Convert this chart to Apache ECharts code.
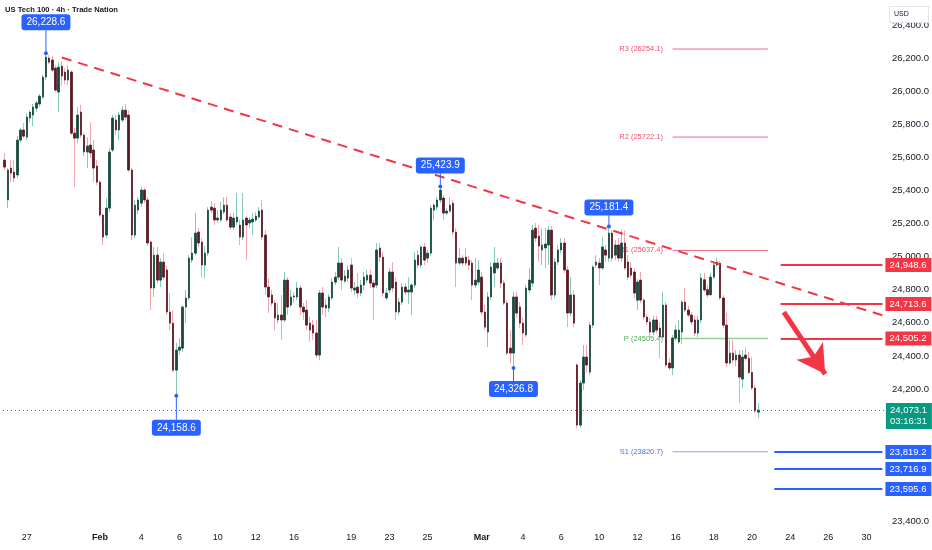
<!DOCTYPE html>
<html><head><meta charset="utf-8">
<script src="https://cdn.jsdelivr.net/npm/echarts@6/dist/echarts.min.js"></script>
<style>html,body{margin:0;padding:0;background:#fff}#c{width:932px;height:550px}</style>
</head><body><div id="c"></div>
<script>
// ---- 4h candles [open, close, low, high], one array per trading week ----
const week1 = [
[25583,25541,25523,25626],[25342,25523,25293,25535],[25535,25505,25450,25583],[25511,25475,25450,25583],[25493,25704,25475,25728],
[25704,25765,25692,25777],[25765,25728,25716,25807],[25722,25843,25704,25867],[25837,25873,25813,25885],[25855,25904,25789,25922],
[25897,25928,25873,25940],[25922,25970,25904,25982],[25964,26085,25952,26097],[26085,26206,26067,26228.6],[26200,26175,26163,26218],
[26188,26127,26115,26212],[26139,26006,25994,26157],[25994,26145,25873,26175],[26151,26091,26030,26181],[26115,26067,26042,26139],
[26067,26127,26036,26157],[26115,25746,25734,26127],[25746,25716,25420,25777],[25716,25855,25686,25904],[25873,25734,25716,25916],
[25734,25632,25607,25746],[25632,25668,25535,25722],[25674,25626,25595,25813],[25644,25535,25450,25704],[25547,25450,25432,25583]];
const week2 = [
[25450,25251,25239,25460],[25251,25118,25070,25263],[25130,25293,25112,25354],[25293,25632,25269,25656],[25644,25837,25632,25855],
[25825,25765,25734,25855],[25765,25855,25704,25873],[25825,25885,25813,25910],[25885,25843,25825,25922],[25855,25523,25511,25885],
[25523,25130,25100,25535],[25130,25311,25112,25342],[25281,25342,25257,25360],[25323,25402,25299,25420],[25402,25342,25323,25414],
[25342,25082,25064,25360],[25088,24810,24677,25100],[24810,25009,24756,25058],[25009,24858,24840,25058],[24858,24967,24816,24991],
[24967,24876,24858,25021],[24919,24665,24647,24943],[24665,24598,24556,24780],[24598,24314,24302,24677],[24314,24435,24158.6,24478],
[24435,24453,24405,24508],[24447,24695,24423,24707],[24695,24750,24598,24798],[24750,24991,24737,25009],[24979,25021,24961,25118]];
const week3 = [
[25021,25142,25010,25263],[25148,25082,25058,25172],[25088,24949,24876,25112],[24949,25021,24870,25064],[25021,25281,25003,25299],
[25299,25281,25263,25336],[25293,25221,25191,25323],[25221,25233,25203,25281],[25221,25281,25209,25330],[25269,25311,25257,25360],
[25311,25221,25209,25360],[25239,25178,25160,25263],[25178,25233,25160,25263],[25209,25239,25191,25384],[25191,25118,25070,25221],
[25118,25221,25100,25384],[25233,25191,24979,25245],[25203,25221,25172,25239],[25209,25227,25130,25263],[25221,25245,25209,25269],
[25239,25275,25227,25299],[25281,25118,25100,25342],[25130,24816,24768,25160],[24816,24756,24659,24870],[24768,24719,24701,24798],
[24719,24629,24556,24737],[24617,24647,24598,24719],[24647,24617,24496,24768],[24617,24858,24605,24907],[24858,24695,24647,24876]];
const week4 = [
[24707,24756,24695,24798],[24762,24756,24719,24786],[24756,24810,24737,24846],[24810,24695,24647,24828],[24695,24665,24617,24719],
[24677,24586,24556,24737],[24598,24556,24484,24635],[24586,24538,24496,24617],[24538,24405,24387,24617],[24405,24780,24375,24798],
[24780,24695,24647,24816],[24707,24689,24635,24750],[24689,24756,24665,24774],[24750,24846,24737,24870],[24846,24876,24828,24907],
[24876,24961,24858,25058],[24961,24858,24798,24991],[24852,24882,24840,24919],[24870,24919,24846,24949],[24949,24810,24786,24991],
[24798,24810,24768,24846],[24816,24780,24750,24901],[24780,24828,24762,24858],[24828,24876,24798,24907],[24858,24888,24840,24919],
[24888,24840,24810,24919],[24840,24816,24617,24858],[24828,25040,24810,25082],[25052,24997,24967,25082],[24997,24780,24756,25027]];
const week5 = [
[24750,24780,24737,24810],[24798,24907,24780,24931],[24907,24810,24786,24967],[24846,24665,24617,24876],[24665,24725,24647,24750],
[24725,24816,24707,24840],[24816,24786,24768,24840],[24786,24798,24713,24876],[24786,24828,24647,24840],[24828,24979,24810,25027],
[25009,24949,24931,25040],[24949,25058,24931,25070],[25058,24979,24949,25082],[24991,25021,24961,25040],[25021,25293,25003,25311],
[25281,25311,25221,25323],[25299,25342,25281,25360],[25342,25402,25323,25423.9],[25354,25263,25221,25372],[25263,25275,25251,25293],
[25275,25311,25263,25360],[25323,25148,25130,25342],[25148,24961,24816,25172],[24961,24991,24949,25052],[24991,24961,24943,25009],
[24997,24961,24943,25052],[24979,24949,24919,25003],[24961,24828,24737,24979],[24828,24858,24810,24991],[24846,24919,24828,24979]];
const week6 = [
[24876,24665,24647,24907],[24665,24574,24556,24707],[24544,24756,24453,24786],[24756,24937,24737,24967],[24901,24961,24816,25058],
[24931,24961,24919,24991],[24961,24840,24810,24991],[24840,24719,24707,24858],[24719,24417,24405,24737],[24447,24417,24357,24556],
[24417,24756,24326.8,24786],[24756,24659,24629,24786],[24695,24598,24568,24725],[24598,24538,24466,24629],[24526,24810,24514,24828],
[24798,24858,24780,24931],[24840,25160,24816,25191],[25172,25112,25088,25203],[25124,25064,24967,25191],[25040,25070,24949,25172],
[25052,25076,24931,25172],[25070,25160,24949,25185],[25160,24768,24737,25185],[24768,24967,24750,24991],[24967,25040,24949,25070],
[25040,25082,25021,25112],[25082,24919,24901,25112],[24919,24659,24574,24943],[24659,24768,24641,24876],[24768,24598,24574,24798]];
const week7 = [
[24345,23982,23964,24357],[23982,24236,23964,24254],[24236,24393,24194,24466],[24393,24345,24296,24466],[24302,24586,24284,24605],
[24586,24937,24568,24949],[24949,24967,24931,25009],[24961,24931,24828,24991],[24931,25058,24919,25118],[25040,25009,24967,25070],
[24991,25142,24967,25181.4],[25142,24991,24967,25160],[25009,25070,24979,25100],[25070,24991,24967,25112],[24991,25082,24967,25160],
[25082,24931,24919,25160],[24967,24876,24858,25009],[24931,24888,24870,24967],[24907,24780,24750,24931],[24737,24846,24677,24864],
[24858,24737,24719,24907],[24737,24635,24617,24750],[24635,24605,24586,24653],[24605,24544,24514,24629],[24544,24617,24526,24641],
[24617,24556,24538,24641],[24568,24514,24387,24605],[24514,24707,24496,24786],[24707,24345,24333,24725],[24357,24327,24314,24387]];
const week8 = [
[24327,24508,24284,24526],[24508,24556,24490,24586],[24484,24556,24472,24617],[24544,24725,24472,24737],[24725,24677,24665,24810],
[24677,24647,24635,24701],[24647,24605,24586,24665],[24617,24538,24520,24641],[24538,24617,24514,24641],[24617,24870,24598,24901],
[24860,24798,24786,24901],[24800,24768,24750,24828],[24770,24876,24762,24901],[24876,24949,24864,24967],[24949,24967,24937,24991],
[24960,24750,24737,24975],[24750,24586,24568,24768],[24586,24357,24333,24660],[24357,24417,24345,24496],[24417,24375,24357,24496],
[24375,24405,24339,24435],[24405,24272,24115,24435],[24260,24393,24206,24435],[24405,24385,24370,24453],[24385,24300,24290,24423],
[24300,24206,24194,24393],[24206,24067,24055,24224],[24060,24073.1,24024,24115]];

// ---- time axis ----
const tickKeys  = ['01-27 02','02-01 22','02-04 02','02-06 02','02-10 02','02-12 02','02-16 02','02-19 02','02-23 02','02-25 02',
                   '03-01 22','03-04 02','03-06 02','03-10 02','03-12 02','03-16 02','03-18 02','03-20 02','03-24 02','03-26 02','03-30 02'];
const tickTexts = ['27','Feb','4','6','10','12','16','19','23','25','Mar','4','6','10','12','16','18','20','24','26','30'];
const yTicksMin = 23400, yTicksMax = 26400, yTickStep = 200;

// ---- annotations ----
const pivotNames  = ['R3','R2','R1','P','S1'];
const pivotValues = [26254.1, 25722.1, 25037.4, 24505.4, 23820.7];
const pivotRange  = [210, 240];
const resistanceLevels = [24948.6, 24713.6, 24505.2];
const supportLevels    = [23819.2, 23716.9, 23595.6];
const resistanceFrom = 244, supportFrom = 242, levelTo = 276;
const lastPrice = 24073.1, countdown = '03:16:31';
const swingIdx    = [13, 54, 137, 160, 190];
const swingValues = [26228.6, 24158.6, 25423.9, 24326.8, 25181.4];
const swingSide   = ['top','bottom','top','bottom','top'];
const trendStart = [18, 26203], trendEnd = [276, 24645];
const arrowStart = [245, 24665], arrowEnd = [258, 24290];

// ---- styles ----
const FONT = "'Liberation Sans', Arial, sans-serif";
const TXT = '#131722';
const pivotLineColors = ['#f06a84','#f06a84','#f06a84','#8fd18f','#86a7f2'];
const pivotTextColors = ['#ee4d6a','#ee4d6a','#ee4d6a','#4caf50','#3f6fe6'];
const swingStem = [23, 24, 13, 13, 11];

const catCount = 277;
const categories = [];
const firstDay = Date.UTC(2026, 0, 25);
for (let d = 0; categories.length < catCount; d++) {
  const t = new Date(firstDay + d * 86400000);
  const dow = t.getUTCDay();
  const hours = dow === 6 ? [] : dow === 0 ? [22] : dow === 5 ? [2,6,10,14,18] : [2,6,10,14,18,22];
  const mm = String(t.getUTCMonth() + 1).padStart(2, '0');
  const dd = String(t.getUTCDate()).padStart(2, '0');
  for (const h of hours) if (categories.length < catCount) categories.push(mm + '-' + dd + ' ' + String(h).padStart(2, '0'));
}

const candles = [].concat(week1, week2, week3, week4, week5, week6, week7, week8);
const bodies = candles.map(([o, c]) => [o, c, Math.min(o, c), Math.max(o, c)]);
const fmt = v => v.toLocaleString('en-US', {minimumFractionDigits: 1, maximumFractionDigits: 1});

const pivotSeries = pivotNames.map((n, k) => ({
  type: 'line', z: 1, silent: true, animation: false,
  symbol: 'circle', symbolSize: 1, itemStyle: {color: 'rgba(0,0,0,0)'},
  lineStyle: {color: pivotLineColors[k], width: k === 3 ? 1.5 : 1},
  data: [
    {value: [pivotRange[0], pivotValues[k]],
     label: {show: true, position: 'left', distance: 9, formatter: n + ' (' + pivotValues[k] + ')',
              color: pivotTextColors[k], fontSize: 7.5, fontFamily: FONT}},
    [pivotRange[1], pivotValues[k]]
  ]
}));

function levelLine(v, from, color) {
  return [
    {coord: [from, v], lineStyle: {color: color, width: 2, type: 'solid'},
     label: {show: true, position: 'end', distance: 3, formatter: fmt(v), backgroundColor: color,
             color: '#fff', padding: [2, 5, 2, 4], fontSize: 9.5, fontFamily: FONT}},
    {coord: [levelTo, v]}
  ];
}

const markLines = [
  [{coord: trendStart, lineStyle: {color: '#f23645', width: 2, type: [10, 7]}}, {coord: trendEnd}],
  [{coord: arrowStart, lineStyle: {color: '#f23645', width: 5, type: 'solid'}},
   {coord: arrowEnd, symbol: 'arrow', symbolSize: [24, 28]}],
  ...resistanceLevels.map(v => levelLine(v, resistanceFrom, '#f23645')),
  ...supportLevels.map(v => levelLine(v, supportFrom, '#2962ff')),
  {yAxis: lastPrice, lineStyle: {color: '#089981', width: 1, type: [1, 3]}}
];

const markPoints = [];
swingIdx.forEach((idx, k) => {
  const v = swingValues[k], L = swingStem[k], up = swingSide[k] === 'top';
  markPoints.push({coord: [idx, v], symbol: 'rect', symbolSize: [1, L], symbolOffset: [0, up ? -L / 2 : L / 2],
    itemStyle: {color: '#2962ff'},
    label: {show: true, position: swingSide[k], distance: 0, formatter: fmt(v), backgroundColor: '#2962ff',
            color: '#fff', borderRadius: 3, padding: [3, 5, 3, 5], fontSize: 10, fontFamily: FONT}});
  markPoints.push({coord: [idx, v], symbol: 'circle', symbolSize: 4, itemStyle: {color: '#2962ff'}, label: {show: false}});
});
markPoints.push({coord: [levelTo, lastPrice], symbol: 'rect', symbolSize: [1, 1], itemStyle: {color: 'rgba(0,0,0,0)'},
  label: {show: true, position: 'right', distance: 3, offset: [0, 6], formatter: fmt(lastPrice) + '\n' + countdown,
          backgroundColor: '#089981', color: '#fff', padding: [2, 5, 2, 4], lineHeight: 11, fontSize: 9.5, fontFamily: FONT}});

const chart = echarts.init(document.getElementById('c'), null, {renderer: 'canvas'});
chart.setOption({
  animation: false,
  backgroundColor: '#ffffff',
  textStyle: {fontFamily: FONT},
  title: [
    {text: 'US Tech 100 · 4h · Trade Nation', left: 5, top: 6, padding: 0,
     textStyle: {fontSize: 7.6, fontWeight: 'bold', color: TXT, fontFamily: FONT}},
    {text: 'USD', left: 889, top: 6, padding: [5, 20, 5, 5], borderColor: '#e0e3eb', borderWidth: 1, backgroundColor: '#fff',
     textStyle: {fontSize: 7, fontWeight: 'normal', color: TXT, fontFamily: FONT}}
  ],
  grid: {left: 3, right: 47, top: 24.9, bottom: 28.6, containLabel: false},
  xAxis: {
    type: 'category', data: categories, boundaryGap: true,
    axisLine: {show: false}, axisTick: {show: false}, splitLine: {show: false},
    axisLabel: {
      interval: (i, v) => tickKeys.indexOf(v) >= 0,
      formatter: v => { const t = tickTexts[tickKeys.indexOf(v)] || ''; return (t === 'Feb' || t === 'Mar') ? '{b|' + t + '}' : t; },
      rich: {b: {fontWeight: 'bold', fontSize: 9, color: TXT, fontFamily: FONT}},
      margin: 12, fontSize: 9, color: TXT, fontFamily: FONT
    }
  },
  yAxis: {
    type: 'value', position: 'right', min: yTicksMin, max: yTicksMax, interval: yTickStep,
    axisLine: {show: false}, axisTick: {show: false}, splitLine: {show: false},
    axisLabel: {margin: 8, fontSize: 9.5, color: TXT, fontFamily: FONT, formatter: v => fmt(v)}
  },
  series: [
    ...pivotSeries,
    {type: 'candlestick', name: 'wicks', data: candles, z: 2, silent: true, barWidth: 1,
     itemStyle: {color: '#86cbb9', color0: '#f4a6b0', borderColor: '#86cbb9', borderColor0: '#f4a6b0', borderWidth: 1}},
    {type: 'candlestick', name: 'bodies', data: bodies, z: 3, silent: true, barWidth: 2,
     itemStyle: {color: '#17483c', color0: '#5b1a22', borderColor: '#17483c', borderColor0: '#5b1a22', borderWidth: 0.8},
     markLine: {silent: true, animation: false, symbol: ['none', 'none'], label: {show: false}, data: markLines},
     markPoint: {silent: true, animation: false, data: markPoints}}
  ]
});
</script></body></html>
